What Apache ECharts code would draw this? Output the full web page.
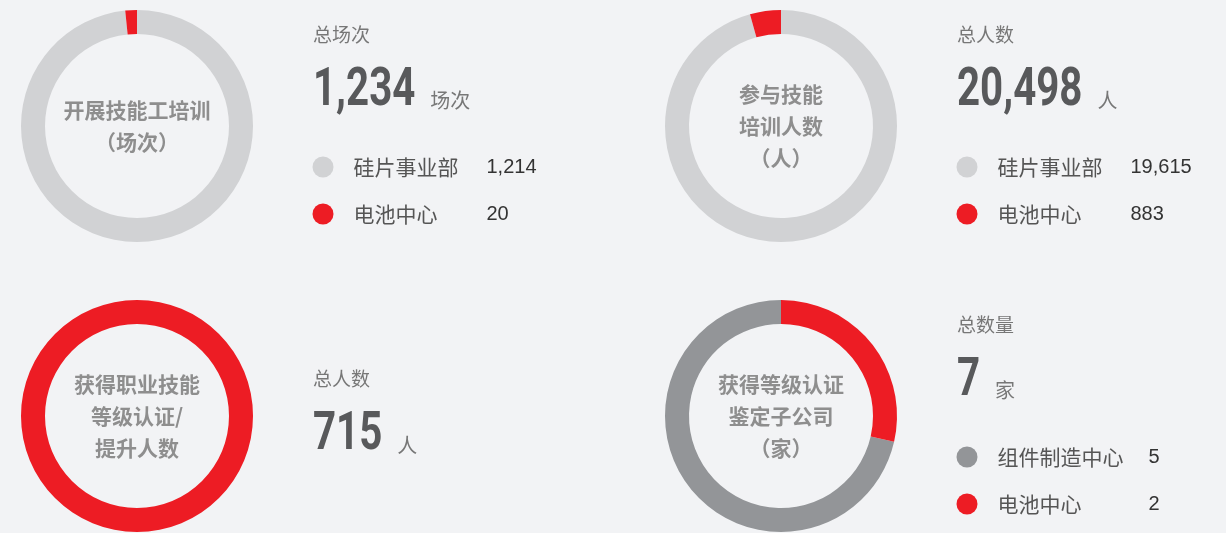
<!DOCTYPE html>
<html>
<head>
<meta charset="utf-8">
<script src="https://cdn.jsdelivr.net/npm/echarts@6/dist/echarts.min.js"></script>
<style>
  html, body { margin: 0; padding: 0; background: #f2f3f5; }
  #chart { width: 1226px; height: 533px; }
</style>
</head>
<body>
<div id="chart"></div>
<script>
// 开展技能工培训（场次）
const sessionCats = ['硅片事业部', '电池中心']
const sessionVals = [1214, 20]
// 参与技能培训人数（人）
const traineeCats = ['硅片事业部', '电池中心']
const traineeVals = [19615, 883]
// 获得职业技能等级认证/提升人数
const certCats = ['获得职业技能等级认证/提升人数']
const certVals = [715]
// 获得等级认证鉴定子公司（家）
const subCats = ['组件制造中心', '电池中心']
const subVals = [5, 2]

const centerTexts = ['开展技能工培训\n（场次）', '参与技能\n培训人数\n（人）', '获得职业技能\n等级认证/\n提升人数', '获得等级认证\n鉴定子公司\n（家）']
const totalLabels = ['总场次', '总人数', '总人数', '总数量']
const units = ['场次', '人', '人', '家']

const RED = '#ed1c24'
const colorMap = { '硅片事业部': '#d1d2d4', '电池中心': RED, '组件制造中心': '#939598', '获得职业技能等级认证/提升人数': RED }

const CJK = '"Noto Sans CJK SC", sans-serif'
const NUM = 'Roboto, "Liberation Sans", sans-serif'
const NUM_SCALE = 0.76
const fmt = v => v.toLocaleString('en-US')
const sum = arr => arr.reduce((a, b) => a + b, 0)

const panels = [
  { cats: sessionCats, vals: sessionVals, cx: 137, cy: 126, legend: true, labelW: 133, clockwise: true },
  { cats: traineeCats, vals: traineeVals, cx: 781, cy: 126, legend: true, labelW: 133, clockwise: true },
  { cats: certCats, vals: certVals, cx: 137, cy: 416, legend: false, clockwise: true },
  { cats: subCats, vals: subVals, cx: 781, cy: 416, legend: true, labelW: 151, clockwise: false },
]

const measure = document.createElement('canvas').getContext('2d')
function textWidth(text, font) {
  measure.font = font
  return measure.measureText(text).width
}

const chart = echarts.init(document.getElementById('chart'))

const series = []
const legends = []
const graphic = []

panels.forEach((p, i) => {
  series.push({
    type: 'pie',
    center: [p.cx, p.cy],
    radius: [92, 116],
    startAngle: 90,
    clockwise: p.clockwise,
    silent: true,
    avoidLabelOverlap: false,
    label: { show: false },
    labelLine: { show: false },
    emphasis: { disabled: true },
    data: p.cats.map((c, j) => ({
      name: c,
      value: p.vals[j],
      itemStyle: { color: colorMap[c] },
      label: j === 0 ? {
        show: true,
        position: 'center',
        formatter: centerTexts[i],
        fontSize: 21,
        fontWeight: 'bold',
        lineHeight: 32,
        color: '#8e8e8e',
        fontFamily: CJK,
      } : { show: false },
    })),
  })

  const tx = p.cx + 176
  const top = p.legend ? p.cy - 91 : p.cy - 37
  const numY = p.legend ? p.cy - 34 : p.cy + 20
  const unitY = p.legend ? p.cy - 26 : p.cy + 29
  const totalText = fmt(sum(p.vals))
  const numFont = 'bold 53px ' + NUM

  graphic.push(
    { type: 'text', x: tx, y: top, silent: true,
      style: { text: totalLabels[i], font: '19px ' + CJK, fill: '#777', verticalAlign: 'middle' } },
    { type: 'text', x: tx, y: numY, scaleX: NUM_SCALE, silent: true,
      style: { text: totalText, font: numFont, fill: '#58595b', verticalAlign: 'middle' } },
    { type: 'text', x: tx + textWidth(totalText, numFont) * NUM_SCALE + 15, y: unitY, silent: true,
      style: { text: units[i], font: '20px ' + CJK, fill: '#777', verticalAlign: 'middle' } }
  )

  if (p.legend) {
    legends.push({
      orient: 'vertical',
      left: tx - 0.5,
      top: p.cy + 41 - 10.5,
      padding: 0,
      icon: 'circle',
      itemWidth: 21,
      itemHeight: 21,
      itemGap: 26,
      selectedMode: false,
      data: p.cats,
      formatter: name => `{n|${name}}{v|${fmt(p.vals[p.cats.indexOf(name)])}}`,
      textStyle: {
        rich: {
          n: { fontSize: 21, color: '#555', width: p.labelW, padding: [0, 0, 0, 15], lineHeight: 21, fontFamily: CJK },
          v: { fontSize: 20, color: '#333', lineHeight: 21, fontFamily: '"Liberation Sans", Arial, sans-serif' },
        },
      },
    })
  }
})

chart.setOption({
  backgroundColor: '#f2f3f5',
  animation: false,
  legend: legends,
  graphic,
  series,
})

window.addEventListener('resize', () => chart.resize())
</script>
</body>
</html>
